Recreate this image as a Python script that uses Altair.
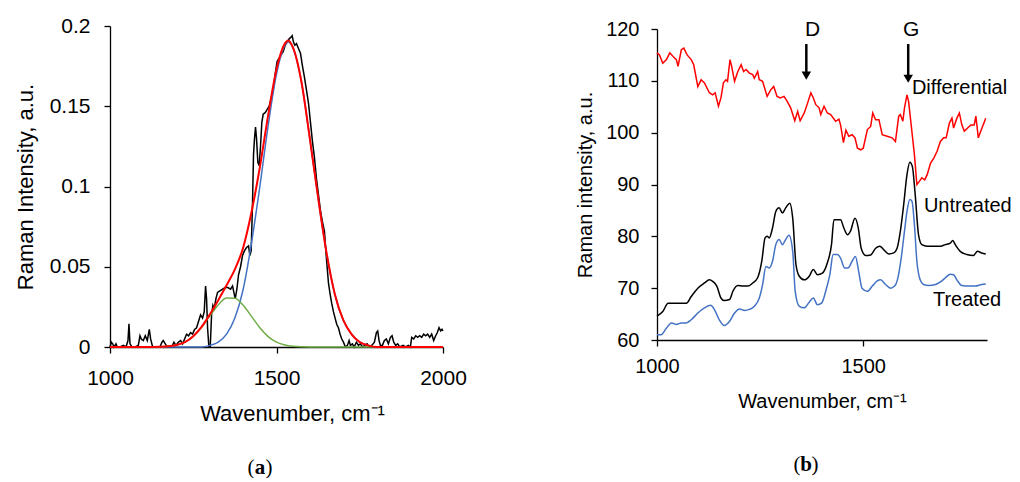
import altair as alt
import pandas as pd

# ---------------- panel (a) data ----------------
a_wn = [1000, 1004, 1008, 1012, 1018, 1022, 1030, 1040, 1048, 1054, 1057, 1060, 1066, 1075, 1085, 1090, 1094,
        1100, 1106, 1112, 1118, 1122, 1128, 1140, 1150, 1156, 1160, 1166, 1172, 1185, 1192, 1198, 1205, 1212,
        1218, 1224, 1230, 1236, 1242, 1248, 1254, 1260, 1266, 1272, 1278, 1283, 1287, 1290, 1293, 1297, 1301,
        1305, 1309, 1313, 1318, 1323, 1330, 1338, 1346, 1354, 1362, 1368, 1372, 1376, 1381, 1386, 1392, 1398,
        1404, 1410, 1416, 1420, 1424, 1428, 1431, 1434, 1437, 1440, 1444, 1448, 1452, 1456, 1460, 1466, 1472,
        1478, 1484, 1490, 1496, 1502, 1508, 1514, 1520, 1526, 1532, 1538, 1543, 1547, 1551, 1555, 1560, 1566,
        1572, 1578, 1584, 1590, 1596, 1602, 1608, 1614, 1620, 1626, 1632, 1638, 1644, 1650, 1656, 1661, 1666,
        1671, 1676, 1681, 1686, 1691, 1696, 1701, 1707, 1713, 1718, 1722, 1728, 1733, 1740, 1746, 1752, 1758,
        1766, 1772, 1778, 1786, 1794, 1800, 1804, 1808, 1812, 1818, 1824, 1830, 1836, 1842, 1847, 1852, 1858,
        1864, 1870, 1880, 1888, 1896, 1902, 1906, 1912, 1918, 1924, 1930, 1936, 1942, 1948, 1954, 1960, 1966,
        1972, 1978, 1983, 1988, 1993, 1997, 2000]
a_raw = [0.000, 0.003, 0.002, 0.000, 0.002, 0.000, 0.000, 0.001, 0.000, 0.004, 0.0145, 0.002, 0.000, 0.000,
         0.001, 0.007, 0.005, 0.004, 0.007, 0.004, 0.011, 0.005, 0.000, 0.000, 0.000, 0.003, 0.004, 0.002,
         0.000, 0.000, 0.003, 0.001, 0.003, 0.004, 0.002, 0.005, 0.008, 0.007, 0.009, 0.008, 0.011, 0.012,
         0.016, 0.020, 0.018, 0.022, 0.038, 0.030, 0.012, 0.000, 0.000, 0.020, 0.026, 0.024, 0.030, 0.034,
         0.035, 0.036, 0.037, 0.037, 0.036, 0.038, 0.034, 0.030, 0.036, 0.045, 0.050, 0.057, 0.060, 0.062,
         0.063, 0.057, 0.060, 0.090, 0.120, 0.130, 0.137, 0.130, 0.115, 0.113, 0.125, 0.140, 0.145, 0.146,
         0.148, 0.150, 0.155, 0.160, 0.170, 0.178, 0.180, 0.182, 0.184, 0.188, 0.190, 0.192, 0.193, 0.194,
         0.190, 0.188, 0.189, 0.186, 0.183, 0.175, 0.168, 0.160, 0.152, 0.140, 0.128, 0.118, 0.105, 0.095,
         0.085, 0.078, 0.072, 0.055, 0.040, 0.033, 0.027, 0.022, 0.018, 0.014, 0.012, 0.008, 0.005, 0.003,
         0.000, 0.001, 0.004, 0.001, 0.002, 0.000, 0.003, 0.001, 0.002, 0.000, 0.001, 0.002, 0.000, 0.001,
         0.003, 0.009, 0.010, 0.004, 0.001, 0.001, 0.004, 0.005, 0.002, 0.006, 0.007, 0.003, 0.001, 0.002,
         0.000, 0.001, 0.000, 0.001, 0.000, 0.006, 0.005, 0.007, 0.006, 0.007, 0.006, 0.008, 0.007, 0.008,
         0.006, 0.008, 0.004, 0.007, 0.009, 0.012, 0.010, 0.011, 0.010]

fit_wn = [1000, 1025, 1050, 1075, 1100, 1125, 1150, 1175, 1200, 1225, 1250, 1275, 1300, 1325, 1350, 1375,
          1400, 1425, 1450, 1475, 1500, 1525, 1535, 1550, 1575, 1600, 1625, 1650, 1675, 1700, 1725, 1750,
          1775, 1800, 1825, 1850, 1875, 1900, 1925, 1950, 1975, 2000]
fit_blue = [0, 0, 0, 0, 0, 0, 0, 0, 0, 0, 0, 0, 0.001, 0.003, 0.008, 0.018,
            0.036, 0.065, 0.100, 0.138, 0.170, 0.188, 0.190, 0.186, 0.165, 0.130, 0.093, 0.059, 0.033, 0.017,
            0.008, 0.003, 0.001, 0, 0, 0, 0, 0, 0, 0, 0, 0]
fit_green = [0, 0, 0, 0, 0, 0, 0.0001, 0.0004, 0.0013, 0.003, 0.0067, 0.0123, 0.0194, 0.0262, 0.0305, 0.0304,
             0.026, 0.0191, 0.012, 0.0065, 0.003, 0.0012, 0.0008, 0.0004, 0.0001, 0, 0, 0, 0, 0, 0, 0,
             0, 0, 0, 0, 0, 0, 0, 0, 0, 0]
fit_red = [0, 0, 0, 0, 0, 0, 0.0001, 0.0004, 0.0013, 0.003, 0.0067, 0.0125, 0.0204, 0.0292, 0.0385, 0.0484,
           0.062, 0.0841, 0.112, 0.1445, 0.173, 0.189, 0.191, 0.1864, 0.1651, 0.130, 0.093, 0.059, 0.033, 0.017,
           0.008, 0.003, 0.001, 0, 0, 0, 0, 0, 0, 0, 0, 0]

# ---------------- panel (b) data ----------------
diff_wn = [1000, 1006, 1014, 1023, 1031, 1039, 1047, 1051, 1059, 1065, 1073, 1083, 1089, 1099, 1107, 1115,
           1127, 1135, 1141, 1149, 1155, 1161, 1167, 1171, 1177, 1181, 1188, 1196, 1204, 1210, 1216, 1224,
           1232, 1236, 1244, 1248, 1256, 1267, 1276, 1283, 1291, 1299, 1308, 1316, 1324, 1334, 1341, 1347,
           1357, 1365, 1373, 1379, 1385, 1393, 1397, 1405, 1413, 1421, 1433, 1441, 1445, 1452, 1458, 1465,
           1473, 1480, 1486, 1494, 1500, 1510, 1518, 1523, 1530, 1538, 1546, 1558, 1570, 1578, 1586, 1590,
           1596, 1600, 1606, 1610, 1617, 1624, 1630, 1636, 1642, 1649, 1655, 1663, 1671, 1679, 1687, 1695,
           1701, 1709, 1715, 1719, 1727, 1733, 1739, 1745, 1753, 1761, 1769, 1773, 1779, 1785, 1797]
diff_val = [115.4, 115.0, 113.4, 114.1, 115.4, 114.7, 114.1, 112.8, 116.0, 116.3, 115.0, 114.1, 113.1, 108.9,
            110.2, 109.6, 107.7, 107.3, 107.7, 105.1, 106.7, 109.6, 110.2, 109.9, 114.1, 112.8, 109.9, 111.8,
            113.1, 111.8, 112.2, 111.5, 111.2, 110.5, 111.8, 110.2, 109.9, 107.0, 108.3, 108.9, 107.0, 106.7,
            107.0, 106.0, 104.8, 102.3, 104.1, 102.3, 103.8, 105.7, 107.7, 106.7, 105.4, 104.8, 103.5, 105.1,
            103.8, 103.5, 102.2, 102.6, 101.5, 98.1, 100.5, 99.3, 99.6, 99.0, 97.0, 96.7, 97.0, 100.6, 101.2,
            103.8, 102.5, 102.5, 99.6, 99.3, 99.0, 98.3, 103.2, 103.5, 102.2, 104.8, 107.3, 106.0, 100.9, 95.8,
            90.0, 90.6, 91.3, 90.9, 91.9, 94.1, 95.1, 96.4, 98.3, 99.0, 99.0, 101.9, 102.8, 100.9, 102.8, 103.8,
            101.5, 100.3, 100.9, 101.5, 101.5, 103.2, 99.0, 100.3, 102.8]

unt_wn = [1000, 1014, 1027, 1043, 1059, 1071, 1083, 1099, 1115, 1127, 1135, 1145, 1155, 1163, 1176, 1184,
          1196, 1208, 1220, 1232, 1244, 1254, 1262, 1267, 1272, 1280, 1288, 1296, 1304, 1312, 1322, 1329,
          1337, 1345, 1357, 1369, 1379, 1389, 1401, 1413, 1423, 1429, 1437, 1445, 1453, 1462, 1469, 1480,
          1488, 1495, 1506, 1518, 1530, 1540, 1550, 1562, 1574, 1582, 1590, 1598, 1606, 1613, 1619, 1626,
          1634, 1642, 1655, 1671, 1687, 1699, 1711, 1717, 1723, 1735, 1751, 1767, 1777, 1787, 1797]
unt_val = [64.6, 65.5, 67.1, 67.1, 67.1, 67.1, 68.4, 70.0, 71.0, 71.6, 71.3, 70.4, 68.1, 67.6, 67.8, 69.4,
           70.5, 70.4, 70.4, 71.0, 72.0, 75.2, 79.7, 80.0, 79.7, 81.6, 84.8, 85.5, 84.5, 85.5, 86.4, 83.5,
           74.5, 72.3, 71.6, 72.3, 73.6, 72.6, 72.9, 74.9, 78.4, 83.2, 83.2, 83.2, 81.6, 80.3, 81.0, 83.5,
           81.6, 77.7, 76.3, 76.4, 77.7, 78.1, 77.4, 76.6, 76.8, 77.7, 81.0, 86.1, 91.9, 94.3, 93.5, 88.0,
           80.3, 78.4, 78.1, 78.1, 78.1, 78.4, 78.7, 79.2, 78.4, 77.1, 76.5, 76.3, 77.1, 76.8, 76.6]

tr_wn = [1000, 1010, 1023, 1035, 1047, 1059, 1071, 1083, 1099, 1115, 1130, 1139, 1151, 1163, 1176, 1188,
         1200, 1212, 1224, 1236, 1248, 1256, 1264, 1272, 1280, 1288, 1296, 1304, 1312, 1320, 1329, 1335,
         1345, 1357, 1369, 1379, 1389, 1399, 1409, 1419, 1427, 1437, 1445, 1455, 1463, 1473, 1481, 1489,
         1497, 1510, 1522, 1534, 1542, 1554, 1566, 1576, 1584, 1592, 1600, 1606, 1613, 1618, 1624, 1630,
         1638, 1646, 1659, 1675, 1687, 1699, 1711, 1719, 1727, 1739, 1755, 1771, 1787, 1797]
tr_val = [61.0, 61.0, 62.3, 63.3, 63.0, 63.3, 63.3, 63.9, 65.2, 66.2, 66.7, 65.9, 63.9, 62.8, 63.6, 65.2,
          66.0, 65.7, 65.9, 66.5, 68.1, 70.7, 74.2, 73.9, 75.2, 78.4, 79.4, 78.4, 79.4, 80.2, 77.1, 69.4,
          66.5, 66.2, 67.3, 68.1, 66.8, 67.1, 69.4, 72.6, 76.5, 76.5, 75.8, 73.9, 73.9, 75.2, 76.1, 73.2,
          70.0, 69.4, 70.4, 71.4, 71.6, 70.7, 70.0, 70.4, 72.0, 75.8, 81.0, 84.8, 87.1, 86.8, 82.3, 75.2,
          71.6, 70.7, 70.5, 70.7, 71.2, 72.0, 72.7, 72.6, 71.6, 70.5, 70.4, 70.4, 70.7, 70.8]

peak_names = ["D", "G"]
peak_pos = [1362, 1609]
curve_names = ["Differential", "Untreated", "Treated"]

FONT = "Liberation Sans"
SERIF = "Liberation Serif"
BLUE = "#4472C4"
GREEN = "#70AD47"
RED = "#FF0000"


def axis(fs_lab, fs_title, **kw):
    return alt.Axis(grid=False, domainColor="black", domainWidth=1.3, tickColor="black", tickWidth=1.3,
                    tickSize=6, labelFont=FONT, labelFontSize=fs_lab, labelColor="black", titleFont=FONT,
                    titleFontSize=fs_title, titleFontWeight="normal", titleColor="black", labelFlush=False,
                    **kw)


# ---------- panel (a) ----------
raw_df = pd.DataFrame({"wn": a_wn, "v": a_raw})
fit_df = pd.DataFrame({"wn": fit_wn, "blue": fit_blue, "green": fit_green, "red": fit_red})

xa_scale = alt.Scale(domain=[1000, 2000], nice=False)
xa = alt.X("wn:Q", scale=xa_scale,
           axis=axis(21, 22, values=[1000, 1500, 2000], format="d", title="Wavenumber, cm⁻¹", labelPadding=14,
                     titlePadding=15, titleX=182))
ya_axis = axis(21, 22, values=[0, 0.05, 0.1, 0.15, 0.2], format="~g", title="Raman Intensity, a.u.",
               labelPadding=14, titlePadding=12)
ya_scale = alt.Scale(domain=[0, 0.2], nice=False)

raw_a = alt.Chart(raw_df).mark_line(color="black", strokeWidth=1.5).encode(
    x=xa, y=alt.Y("v:Q", scale=ya_scale, axis=ya_axis))
fits = []
for col, colr, sw in [("blue", BLUE, 1.5), ("green", GREEN, 1.5), ("red", RED, 2)]:
    fits.append(alt.Chart(fit_df).mark_line(color=colr, strokeWidth=sw, interpolate="monotone").encode(
        x=alt.X("wn:Q", scale=xa_scale), y=alt.Y(f"{col}:Q", scale=ya_scale)))


def panel_label(letter, xpix, ypix):
    parts = []
    for ch, dx, wt in [("(", -9, "normal"), (letter, 0, "bold"), (")", 9, "normal")]:
        parts.append(alt.Chart(pd.DataFrame({"t": [ch]})).mark_text(
            font=SERIF, fontSize=21, fontWeight=wt, color="black", dx=dx, baseline="middle", align="center"
        ).encode(x=alt.value(xpix), y=alt.value(ypix), text="t:N"))
    return parts


left = alt.layer(raw_a, *fits, *panel_label("a", 150, 442)).properties(width=333, height=321)

# ---------- panel (b) ----------
xb_scale = alt.Scale(domain=[1000, 1800], nice=False)
yb_scale = alt.Scale(domain=[60, 120], nice=False)
xb = alt.X("wn:Q", scale=xb_scale,
           axis=axis(20, 20, values=[1000, 1500], format="d", title="Wavenumber, cm⁻¹", labelPadding=10,
                     titlePadding=15))
yb_axis = axis(20, 20, values=[60, 70, 80, 90, 100, 110, 120], title="Raman intensity, a.u.",
               labelPadding=12, titlePadding=10)

tr_line = alt.Chart(pd.DataFrame({"wn": tr_wn, "v": tr_val})).mark_line(
    color=BLUE, strokeWidth=1.5, interpolate="monotone").encode(x=xb, y=alt.Y("v:Q", scale=yb_scale, axis=yb_axis))
unt_line = alt.Chart(pd.DataFrame({"wn": unt_wn, "v": unt_val})).mark_line(
    color="black", strokeWidth=1.5, interpolate="monotone").encode(
    x=alt.X("wn:Q", scale=xb_scale), y=alt.Y("v:Q", scale=yb_scale))
diff_line = alt.Chart(pd.DataFrame({"wn": diff_wn, "v": diff_val})).mark_line(
    color=RED, strokeWidth=1.5).encode(x=alt.X("wn:Q", scale=xb_scale), y=alt.Y("v:Q", scale=yb_scale))

arrow_df = pd.DataFrame({"name": peak_names, "wn": peak_pos, "top": [117.1, 117.1], "bot": [111.6, 111.0],
                         "tip": [111.0, 110.4], "lab_wn": [1377, 1616], "lab_y": [119.8, 119.8]})
shaft = alt.Chart(arrow_df).mark_rule(color="black", strokeWidth=2.5).encode(
    x=alt.X("wn:Q", scale=xb_scale), y=alt.Y("top:Q", scale=yb_scale), y2="bot:Q")
head = alt.Chart(arrow_df).mark_point(shape="triangle-down", filled=True, color="black", opacity=1, size=90).encode(
    x=alt.X("wn:Q", scale=xb_scale), y=alt.Y("tip:Q", scale=yb_scale))
peak_txt = alt.Chart(arrow_df).mark_text(font=FONT, fontSize=21, color="black", baseline="middle").encode(
    x=alt.X("lab_wn:Q", scale=xb_scale), y=alt.Y("lab_y:Q", scale=yb_scale), text="name:N")

name_df = pd.DataFrame({"name": curve_names, "wn": [1618, 1647, 1669], "y": [108.6, 85.8, 67.7]})
name_txt = alt.Chart(name_df).mark_text(font=FONT, fontSize=20, color="black", align="left",
                                        baseline="middle").encode(
    x=alt.X("wn:Q", scale=xb_scale), y=alt.Y("y:Q", scale=yb_scale), text="name:N")

right = alt.layer(tr_line, unt_line, diff_line, shaft, head, peak_txt, name_txt,
                  *panel_label("b", 149, 436)).properties(width=330, height=311)

chart = alt.hconcat(left, right, spacing=108, center=True).properties(
    padding={"left": 6, "top": 7, "right": 0, "bottom": 0}
).configure_view(stroke=None)

chart.save("out.html", embed_options={"renderer": "svg", "actions": False})
